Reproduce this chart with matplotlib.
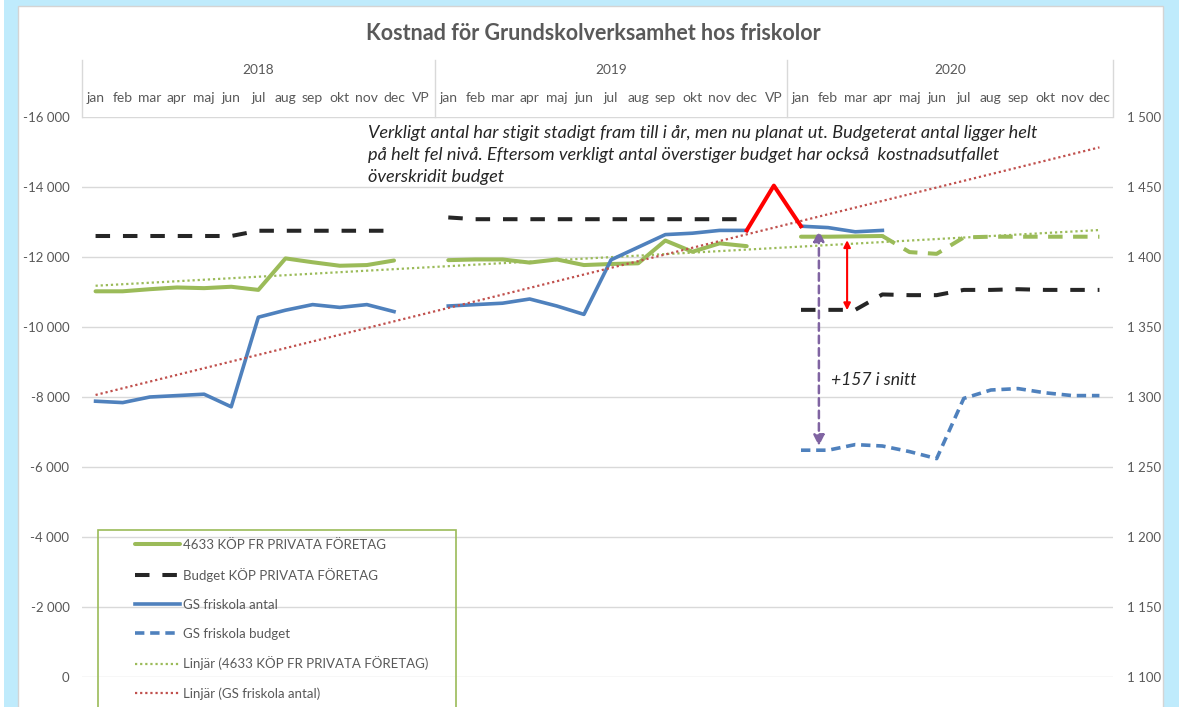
import matplotlib.pyplot as plt
from matplotlib.patches import Rectangle
from matplotlib.ticker import FuncFormatter
import numpy as np

plt.rcParams['font.family'] = ['Lato', 'DejaVu Sans']

# ====== Data ======
months = ['jan', 'feb', 'mar', 'apr', 'maj', 'jun', 'jul', 'aug', 'sep', 'okt', 'nov', 'dec']
years = ['2018', '2019', '2020']
groups = [months + ['VP'], months + ['VP'], months]
categories = groups[0] + groups[1] + groups[2]

# 4633 KÖP FR PRIVATA FÖRETAG (kr, negative = cost); 2020 maj-dec is forecast (dashed)
kostnad_2018 = [-11020, -11020, -11080, -11130, -11110, -11150, -11060, -11960, -11850, -11750, -11770, -11900]
kostnad_2019 = [-11910, -11930, -11930, -11840, -11930, -11770, -11800, -11820, -12470, -12150, -12390, -12310]
kostnad_2020 = [-12580, -12580, -12590, -12600, -12140, -12090, -12560, -12580, -12580, -12580, -12580, -12580]
utfall_2020 = 4  # months of actual outcome in 2020

budget_2018 = [-12600, -12600, -12600, -12600, -12600, -12600, -12750, -12750, -12750, -12750, -12750, -12750]
budget_2019 = [-13130, -13080, -13080, -13080, -13080, -13080, -13080, -13080, -13080, -13080, -13080, -13080]
budget_2020 = [-10490, -10490, -10490, -10930, -10910, -10910, -11060, -11060, -11080, -11060, -11060, -11060]

# GS friskola antal (elever), VP 2019 drawn red
antal_2018 = [1297, 1296, 1300, 1301, 1302, 1293, 1357, 1362, 1366, 1364, 1366, 1361]
antal_2019 = [1365, 1366, 1367, 1370, 1365, 1359, 1398, 1407, 1416, 1417, 1419, 1419, 1451]
antal_2020 = [1422, 1421, 1418, 1419]
antal_budget_2020 = [1262, 1262, 1266, 1265, 1261, 1256, 1299, 1305, 1306, 1303, 1301, 1301]


def full(y2018=(), y2019=(), y2020=()):
    out = []
    for g, vals in zip(groups, [y2018, y2019, y2020]):
        vals = list(vals)
        out += vals + [np.nan] * (len(g) - len(vals))
    return np.array(out, dtype=float)


x = np.arange(len(categories))
kostnad = full(kostnad_2018, kostnad_2019, kostnad_2020)
budget = full(budget_2018, budget_2019, budget_2020)
antal = full(antal_2018, antal_2019, antal_2020)
antal_budget = full(y2020=antal_budget_2020)

i_apr = len(groups[0]) + len(groups[1]) + utfall_2020 - 1
i_vp = len(groups[0]) + len(groups[1]) - 1
kost_utfall = np.where(x <= i_apr, kostnad, np.nan)
kost_prognos = np.where(x >= i_apr, kostnad, np.nan)
antal_blue = np.where(x == i_vp, np.nan, antal)


def trend(y):
    ok = ~np.isnan(y)
    k, m = np.polyfit(x[ok], y[ok], 1)
    return k * x + m


GREEN = '#9BBB59'
BLUE = '#4F81BD'
DARK = '#262626'
GREY = '#595959'

# ====== Plot ======
W, H = 1179, 707
fig = plt.figure(figsize=(W / 100, H / 100), dpi=100, facecolor='#BFEBFC')
fig.patches.append(Rectangle((18 / W, -0.01), (1163 - 18) / W, (707 - 6) / H + 0.01,
                             transform=fig.transFigure, facecolor='white',
                             edgecolor='#D4D4D4', lw=1, zorder=-5))
fig.patches.append(Rectangle((0, 0), 4 / W, 1, transform=fig.transFigure,
                             facecolor='white', edgecolor='none', zorder=-5))

ax = fig.add_axes([82 / W, 30 / H, 1031 / W, 560 / H])
ax.set_facecolor('none')
ax2 = ax.twinx()

l_kost, = ax.plot(x, kost_utfall, color=GREEN, lw=2.9, solid_capstyle='round',
                  label='4633 KÖP FR PRIVATA FÖRETAG', zorder=3)
ax.plot(x, kost_prognos, color=GREEN, lw=2.9, dashes=(3.6, 2.6), zorder=2)
l_bud, = ax.plot(x, budget, color=DARK, lw=2.9, dashes=(3.6, 3.2),
                 label='Budget KÖP PRIVATA FÖRETAG', zorder=2)
l_trk, = ax.plot(x, trend(kostnad), color=GREEN, lw=1.6, ls=(0, (1, 1.3)),
                 label='Linjär (4633 KÖP FR PRIVATA FÖRETAG)', zorder=2)

ax2.plot(x[i_vp - 1:i_vp + 2], antal[i_vp - 1:i_vp + 2], color='#FF0000', lw=2.9, zorder=4)
l_ant, = ax2.plot(x, antal_blue, color=BLUE, lw=2.6, label='GS friskola antal', zorder=3)
l_ab, = ax2.plot(x, antal_budget, color=BLUE, lw=2.6, dashes=(2.6, 1.6),
                 label='GS friskola budget', zorder=3)
l_tra, = ax2.plot(x, trend(antal), color='#C0504D', lw=1.6, ls=(0, (1, 1.3)),
                  label='Linjär (GS friskola antal)', zorder=3)

# axes
ax.set_xlim(-0.5, len(categories) - 0.5)
ax.set_ylim(0, -16000)
ax.set_yticks(np.arange(0, -16001, -2000))
ax2.set_ylim(1100, 1500)
ax2.set_yticks(np.arange(1100, 1501, 50))
fmt = FuncFormatter(lambda v, p: f'{int(round(v)):,}'.replace(',', ' '))
ax.yaxis.set_major_formatter(fmt)
ax2.yaxis.set_major_formatter(fmt)
ax.set_xticks([])
for a in (ax, ax2):
    for s in a.spines.values():
        s.set_visible(False)
ax.tick_params(axis='y', length=0, pad=9, labelsize=9.5, labelcolor=GREY)
ax2.tick_params(axis='y', length=0, pad=10, labelsize=9.5, labelcolor=GREY)
ax.yaxis.grid(True, color='#D9D9D9', lw=1)
ax.set_axisbelow(True)

# multi-level category axis on top
trans = ax.get_xaxis_transform()
start = -0.5
ax.plot([start, start], [1.0, 1.102], transform=trans, color='#D9D9D9', lw=1, clip_on=False)
for year, g in zip(years, groups):
    end = start + len(g)
    ax.plot([end, end], [1.0, 1.102], transform=trans, color='#D9D9D9', lw=1, clip_on=False)
    ax.text((start + end) / 2, 1.084, year, transform=trans, ha='center', va='center',
            fontsize=9.8, color=GREY)
    start = end
for xi, c in zip(x, categories):
    ax.text(xi, 1.034, c, transform=trans, ha='center', va='center', fontsize=10, color=GREY)

# annotations
ax2.annotate('', xy=(26.66, 1419), xytext=(26.66, 1265),
             arrowprops=dict(arrowstyle='<|-|>', color='#8064A2', lw=1.8,
                             ls=(0, (3, 2)), mutation_scale=16, shrinkA=0, shrinkB=0))
ax2.annotate('', xy=(27.7, 1412), xytext=(27.7, 1362),
             arrowprops=dict(arrowstyle='<|-|>', color='#FF0000', lw=1.5,
                             mutation_scale=10, shrinkA=0, shrinkB=0))
ax2.text(27.1, 1312, '+157 i snitt', style='italic', fontsize=12.6, color=DARK,
         ha='left', va='center')

fig.text(368 / W, 1 - 125 / H,
         'Verkligt antal har stigit stadigt fram till i år, men nu planat ut. Budgeterat antal ligger helt\n'
         'på helt fel nivå. Eftersom verkligt antal överstiger budget har också  kostnadsutfallet\n'
         'överskridit budget',
         style='italic', fontsize=13.1, color=DARK, ha='left', va='top', linespacing=1.45)

fig.text(593 / W, 1 - 33 / H, 'Kostnad för Grundskolverksamhet hos friskolor',
         ha='center', va='center', fontsize=15.5, fontweight='bold', color=GREY)

# legend
fig.patches.append(Rectangle((98 / W, -0.05), (456 - 98) / W, (707 - 530) / H + 0.05,
                             transform=fig.transFigure, fill=False,
                             edgecolor=GREEN, lw=1.2))
handles = [l_kost, l_bud, l_ant, l_ab, l_trk, l_tra]
fig.legend(handles, [h.get_label() for h in handles], loc='upper left',
           bbox_to_anchor=(135 / W, 1 - 539 / H), frameon=False, fontsize=9.5,
           labelcolor=GREY, handlelength=3.4, handletextpad=0.25, labelspacing=1.28,
           borderpad=0, borderaxespad=0)

fig.savefig('out.png', dpi=100, facecolor=fig.get_facecolor())
